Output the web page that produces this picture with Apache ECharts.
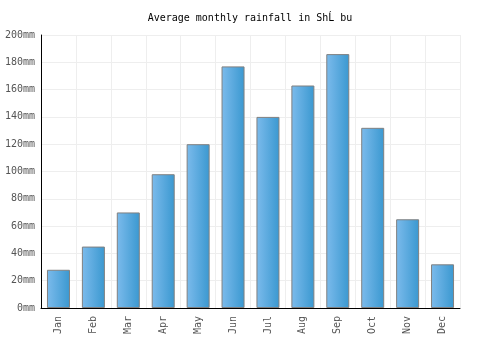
<!DOCTYPE html>
<html>
<head>
  <meta charset="utf-8" />
  <title>Average monthly rainfall</title>
  <script src="https://cdn.jsdelivr.net/npm/echarts@6/dist/echarts.min.js"></script>
  <style>
    html, body { margin: 0; padding: 0; background: #fff; }
    #chart { width: 500px; height: 350px; }
  </style>
</head>
<body>
  <div id="chart"></div>
  <script>
    // 数据：月降雨量 (mm)
    const titleText = 'Average monthly rainfall in ShĹ bu';
    const months = ['Jan', 'Feb', 'Mar', 'Apr', 'May', 'Jun', 'Jul', 'Aug', 'Sep', 'Oct', 'Nov', 'Dec'];
    const rainfall = [28, 45, 70, 98, 120, 177, 140, 163, 186, 132, 65, 32];

    const mono = '"DejaVu Sans Mono", monospace';
    const chart = echarts.init(document.getElementById('chart'));

    chart.setOption({
      animation: false,
      title: {
        text: titleText,
        left: 'center',
        top: 8,
        textStyle: { fontFamily: mono, fontSize: 10, fontWeight: 'normal', color: '#000' }
      },
      grid: { left: 41, right: 40, top: 35, bottom: 42 },
      xAxis: {
        type: 'category',
        data: months,
        axisLine: { lineStyle: { color: '#000', width: 1 } },
        axisTick: { show: false },
        splitLine: { show: true, interval: 0, lineStyle: { color: '#eeeeee' } },
        axisLabel: {
          rotate: 90,
          interval: 0,
          margin: 8,
          fontFamily: mono,
          fontSize: 10,
          color: '#555'
        }
      },
      yAxis: {
        type: 'value',
        min: 0,
        max: 200,
        interval: 20,
        axisLine: { show: true, lineStyle: { color: '#000', width: 1 } },
        axisTick: { show: false },
        splitLine: { lineStyle: { color: '#eeeeee' } },
        axisLabel: {
          formatter: '{value}mm',
          margin: 6,
          fontFamily: mono,
          fontSize: 10,
          color: '#555'
        }
      },
      series: [{
        type: 'bar',
        data: rainfall,
        barWidth: 23,
        itemStyle: {
          color: new echarts.graphic.LinearGradient(0, 0, 1, 0, [
            { offset: 0, color: '#7cbbec' },
            { offset: 1, color: '#3a98d0' }
          ]),
          borderColor: '#808080',
          borderWidth: 1
        }
      }]
    });
  </script>
</body>
</html>
